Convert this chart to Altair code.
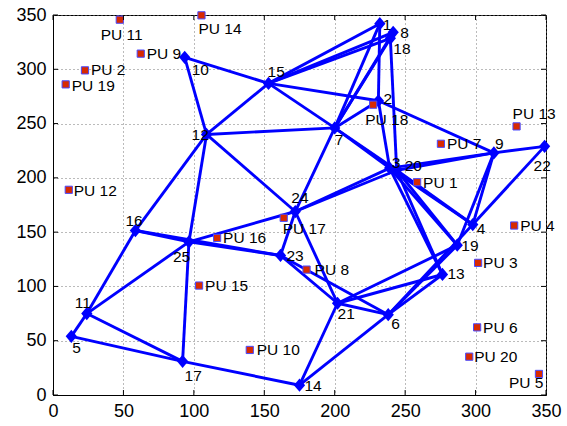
import altair as alt
import pandas as pd

# Secondary-user nodes (diamonds), numbered 1..25
node_x = [232, 231, 239, 298, 13, 238, 200, 241.5, 313, 93.5,
          24, 109, 276.5, 175, 153, 58.5, 92, 239.5, 287, 244,
          202, 349, 161.5, 172, 96.5]
node_y = [342, 271, 209, 157, 54, 74, 246, 334, 223, 311,
          75, 240, 111, 9, 287, 151.5, 31, 328.5, 138, 207,
          84.5, 229, 128.5, 169, 141]

# Primary users (squares), PU 1..PU 20
pu_x = [258.5, 22.7, 301.8, 327.4, 345, 301.1, 275.4, 180, 62.3, 139.7,
        47.4, 11.2, 329.1, 105.4, 103.7, 116.5, 163.8, 227.3, 9, 295.5]
pu_y = [196, 299, 121.7, 156.1, 19.4, 62.3, 231.4, 115.5, 314.4, 41.5,
        345.7, 189, 247.4, 349.7, 100.8, 144.7, 163.2, 267.4, 286.1, 35.3]

# Links between nodes
edges = [(10, 15), (10, 12), (15, 12), (15, 1), (15, 8), (15, 18), (15, 2), (15, 7),
         (12, 7), (12, 24), (12, 16), (12, 25),
         (7, 1), (7, 8), (7, 18), (7, 2), (7, 3), (7, 20), (7, 24),
         (1, 2), (18, 20), (2, 3), (2, 9),
         (24, 3), (24, 20), (24, 23), (24, 21), (25, 24),
         (16, 25), (16, 23), (25, 23), (16, 11), (25, 11), (25, 17),
         (11, 5), (11, 17), (5, 17), (17, 14),
         (23, 21), (23, 6), (21, 6), (21, 14), (21, 19), (21, 13),
         (6, 14), (6, 19), (6, 13), (6, 4),
         (3, 9), (20, 9), (9, 22), (9, 4), (9, 19), (22, 4),
         (3, 4), (20, 4), (3, 19), (20, 19), (3, 13), (20, 13)]

ticks = [0, 50, 100, 150, 200, 250, 300, 350]

# Label nudges in screen pixels (right, down) from each marker
node_nudge = [(3, 1), (5, -1.5), (2, -5), (4, 4), (1, 12), (3, 9), (0, 12), (7, 1),
              (1, -9), (7, 13), (-12, -10.5), (-15, 1), (5, 0), (5, 1), (-1, -11.5),
              (-10, -9.5), (2, 14.5), (3, 11), (4, 1), (8, -4), (0, 11), (-11, 19.5),
              (6, 1), (-4, -13.5), (-16, 15.5)]
pu_nudge = [(6, 1), (6, 0), (5, 0), (6, 0.5), (-30, 9), (6, 0.5), (6, 0), (8, 0),
            (6, 0), (7, 0), (-19, 15), (5, 1), (-4, -12), (-3, 14), (6, 0.5),
            (6, 0), (-1, 11), (-8, 15), (6, 1.5), (5, 0.5)]

W, H = 493, 380
LIM = 350
FONT = "Liberation Sans"
sx, sy = LIM / W, LIM / H

nodes = pd.DataFrame({
    "x": node_x, "y": node_y,
    "label": [str(i + 1) for i in range(len(node_x))],
})
nodes["lx"] = [x + dx * sx for x, (dx, _) in zip(node_x, node_nudge)]
nodes["ly"] = [y - dy * sy for y, (_, dy) in zip(node_y, node_nudge)]

pus = pd.DataFrame({
    "x": pu_x, "y": pu_y,
    "label": [f"PU {i + 1}" for i in range(len(pu_x))],
})
pus["lx"] = [x + dx * sx for x, (dx, _) in zip(pu_x, pu_nudge)]
pus["ly"] = [y - dy * sy for y, (_, dy) in zip(pu_y, pu_nudge)]

links = pd.DataFrame({
    "x": [node_x[a - 1] for a, b in edges],
    "y": [node_y[a - 1] for a, b in edges],
    "x2": [node_x[b - 1] for a, b in edges],
    "y2": [node_y[b - 1] for a, b in edges],
})

tick_df = pd.DataFrame({"t": ticks})

xscale = alt.Scale(domain=[0, LIM], nice=False, zero=False)
yscale = alt.Scale(domain=[0, LIM], nice=False, zero=False)
ax = alt.Axis(values=ticks, tickSize=0, labelPadding=7, labelFontSize=18,
              labelFont=FONT, labelColor="black", domainColor="black",
              gridColor="#777777", gridDash=[1, 3], gridWidth=1,
              labelFlush=False, title=None)


def X(field):
    return alt.X(field, type="quantitative", scale=xscale, axis=ax)


def Y(field):
    return alt.Y(field, type="quantitative", scale=yscale, axis=ax)


link_layer = alt.Chart(links).mark_rule(color="#0000ff", strokeWidth=2.9).encode(
    x=X("x"), y=Y("y"), x2="x2", y2="y2")

node_layer = alt.Chart(nodes).mark_point(
    shape="M0,-1L0.85,0L0,1L-0.85,0Z", filled=True, size=175,
    color="#0000ff", opacity=1).encode(x=X("x"), y=Y("y"))

pu_layer = alt.Chart(pus).mark_point(
    shape="square", filled=True, size=52, fill="#d82a00",
    stroke="#4a4aff", strokeWidth=1, opacity=1).encode(x=X("x"), y=Y("y"))

text_style = dict(align="left", baseline="middle", font=FONT, fontSize=15.5, color="black")
node_text = alt.Chart(nodes).mark_text(**text_style).encode(
    x=X("lx"), y=Y("ly"), text="label")
pu_text = alt.Chart(pus).mark_text(**text_style).encode(
    x=X("lx"), y=Y("ly"), text="label")

# Inward tick marks on all four sides of the box
tick_style = dict(color="black", strokeWidth=1)
t_bottom = alt.Chart(tick_df).mark_rule(**tick_style).encode(
    x=X("t"), y=alt.value(H), y2=alt.value(H - 5))
t_top = alt.Chart(tick_df).mark_rule(**tick_style).encode(
    x=X("t"), y=alt.value(0), y2=alt.value(5))
t_left = alt.Chart(tick_df).mark_rule(**tick_style).encode(
    y=Y("t"), x=alt.value(0), x2=alt.value(5))
t_right = alt.Chart(tick_df).mark_rule(**tick_style).encode(
    y=Y("t"), x=alt.value(W), x2=alt.value(W - 5))

chart = alt.layer(
    link_layer, node_layer, pu_layer, node_text, pu_text,
    t_bottom, t_top, t_left, t_right,
).properties(
    width=W, height=H,
    autosize=alt.AutoSizeParams(type="none"),
    padding={"left": 53, "top": 15, "right": 21, "bottom": 31},
    background="white",
).configure_view(stroke="black", strokeWidth=1)

chart.save("out.html", embed_options={"renderer": "svg", "actions": False})
